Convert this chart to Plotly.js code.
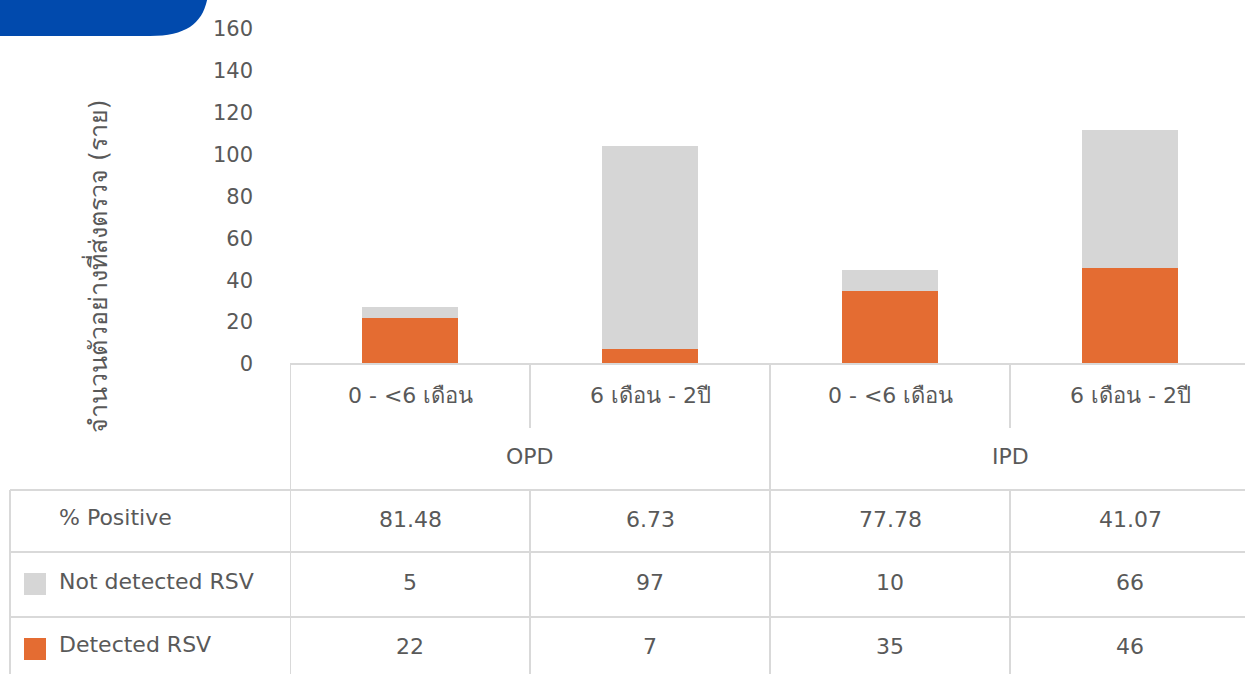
<!DOCTYPE html>
<html>
<head>
<meta charset="utf-8">
<script src="https://cdn.plot.ly/plotly-3.0.1.min.js"></script>
<style>html,body{margin:0;padding:0;background:#fff;overflow:hidden;}#chart{width:1250px;height:674px;}</style>
</head>
<body>
<div id="chart"></div>
<script>
const categories = ['0 - <6 เดือน', '6 เดือน - 2ปี', '0 - <6 เดือน', '6 เดือน - 2ปี'];
const groups = ['OPD', 'IPD'];
const detected = [22, 7, 35, 46];
const notDetected = [5, 97, 10, 66];
const pctPositive = ['81.48', '6.73', '77.78', '41.07'];
const yTicks = [0, 20, 40, 60, 80, 100, 120, 140, 160];
const yTitle = 'จำนวนตัวอย่างที่ส่งตรวจ (ราย)';
const rowLabels = ['% Positive', 'Not detected RSV', 'Detected RSV'];

const W = 1250, H = 674;
const M = {l: 290, r: 0, t: 29, b: 310};
const PW = W - M.l - M.r, PH = H - M.t - M.b;
const px = x => (x - M.l) / PW;
const py = y => (H - M.b - y) / PH;

const FONT = 'Tahoma, "DejaVu Sans", "Noto Sans", sans-serif';
const TXT = '#595959';
const LINE = '#D9D9D9';
const ORANGE = '#E46C32';
const GREY = '#D6D6D6';

const xIdx = categories.map((c, i) => i);

const traces = [
  {type: 'bar', x: xIdx, y: detected, name: 'Detected RSV', marker: {color: ORANGE}, hoverinfo: 'y'},
  {type: 'bar', x: xIdx, y: notDetected, name: 'Not detected RSV', marker: {color: GREY}, hoverinfo: 'y'}
];

const shapes = [];
const ann = [];
function hline(y, x0, x1) {
  shapes.push({type: 'line', xref: 'paper', yref: 'paper', x0: px(x0), x1: px(x1), y0: py(y), y1: py(y), line: {color: LINE, width: 2}});
}
function vlineCat(c, y0, y1) {
  shapes.push({type: 'line', xref: 'x', yref: 'paper', x0: c, x1: c, y0: py(y0), y1: py(y1), line: {color: LINE, width: 2}});
}
function vlinePx(x, y0, y1) {
  shapes.push({type: 'line', xref: 'paper', yref: 'paper', x0: px(x), x1: px(x), y0: py(y0), y1: py(y1), line: {color: LINE, width: 2}});
}

// table grid
hline(364, 290, 1250);
hline(490, 10, 1250);
hline(552, 10, 1250);
hline(617, 10, 1250);
vlinePx(10, 490, 680);
vlineCat(-0.5, 364, 680);
vlineCat(0.5, 364, 428);
vlineCat(0.5, 490, 680);
vlineCat(1.5, 364, 680);
vlineCat(2.5, 364, 428);
vlineCat(2.5, 490, 680);

// legend swatches
shapes.push({type: 'rect', xref: 'paper', yref: 'paper', x0: px(24), x1: px(46), y0: py(573), y1: py(595), fillcolor: GREY, line: {width: 0}});
shapes.push({type: 'rect', xref: 'paper', yref: 'paper', x0: px(24), x1: px(46), y0: py(638), y1: py(660), fillcolor: ORANGE, line: {width: 0}});

// blue banner (top-left)
(function(){
  const path = `M ${px(-5)} ${py(-5)} L ${px(208)} ${py(-5)} ` +
    `C ${px(204)} ${py(22)} ${px(188)} ${py(36)} ${px(150)} ${py(36)} ` +
    `L ${px(-5)} ${py(36)} Z`;
  shapes.push({type: 'path', xref: 'paper', yref: 'paper', path: path, fillcolor: '#014AAD', line: {width: 0}});
})();

const f = {family: FONT, size: 22, color: TXT};

categories.forEach((c, i) => {
  ann.push({xref: 'x', yref: 'paper', x: i, y: py(395), text: c, showarrow: false, font: f, xanchor: 'center', yanchor: 'middle'});
  ann.push({xref: 'x', yref: 'paper', x: i, y: py(519), text: pctPositive[i], showarrow: false, font: f, xanchor: 'center', yanchor: 'middle'});
  ann.push({xref: 'x', yref: 'paper', x: i, y: py(582), text: String(notDetected[i]), showarrow: false, font: f, xanchor: 'center', yanchor: 'middle'});
  ann.push({xref: 'x', yref: 'paper', x: i, y: py(646), text: String(detected[i]), showarrow: false, font: f, xanchor: 'center', yanchor: 'middle'});
});
groups.forEach((g, j) => {
  ann.push({xref: 'x', yref: 'paper', x: j * 2 + 0.5, y: py(456), text: g, showarrow: false, font: f, xanchor: 'center', yanchor: 'middle'});
});
const rowY = [517, 581, 644];
rowLabels.forEach((r, k) => {
  ann.push({xref: 'paper', yref: 'paper', x: px(57), y: py(rowY[k]), text: r, showarrow: false, font: f, xanchor: 'left', yanchor: 'middle'});
});
ann.push({xref: 'paper', yref: 'paper', x: px(97), y: py(267), text: yTitle, textangle: -90, showarrow: false,
  font: {family: FONT, size: 25, color: TXT}, xanchor: 'center', yanchor: 'middle'});

const layout = {
  width: W, height: H,
  margin: M,
  paper_bgcolor: '#fff', plot_bgcolor: '#fff',
  barmode: 'stack',
  bargap: 0.6,
  showlegend: false,
  xaxis: {range: [-0.5, 3.5], showticklabels: false, showgrid: false, zeroline: false, showline: false, ticks: '', fixedrange: true},
  yaxis: {range: [0, 160], tickvals: yTicks, showgrid: false, zeroline: false, showline: false, ticks: '',
          tickfont: {family: FONT, size: 21, color: TXT}, ticklabelstandoff: 36, fixedrange: true},
  shapes: shapes,
  annotations: ann
};

Plotly.newPlot('chart', traces, layout, {displayModeBar: false, staticPlot: true});
</script>
</body>
</html>
